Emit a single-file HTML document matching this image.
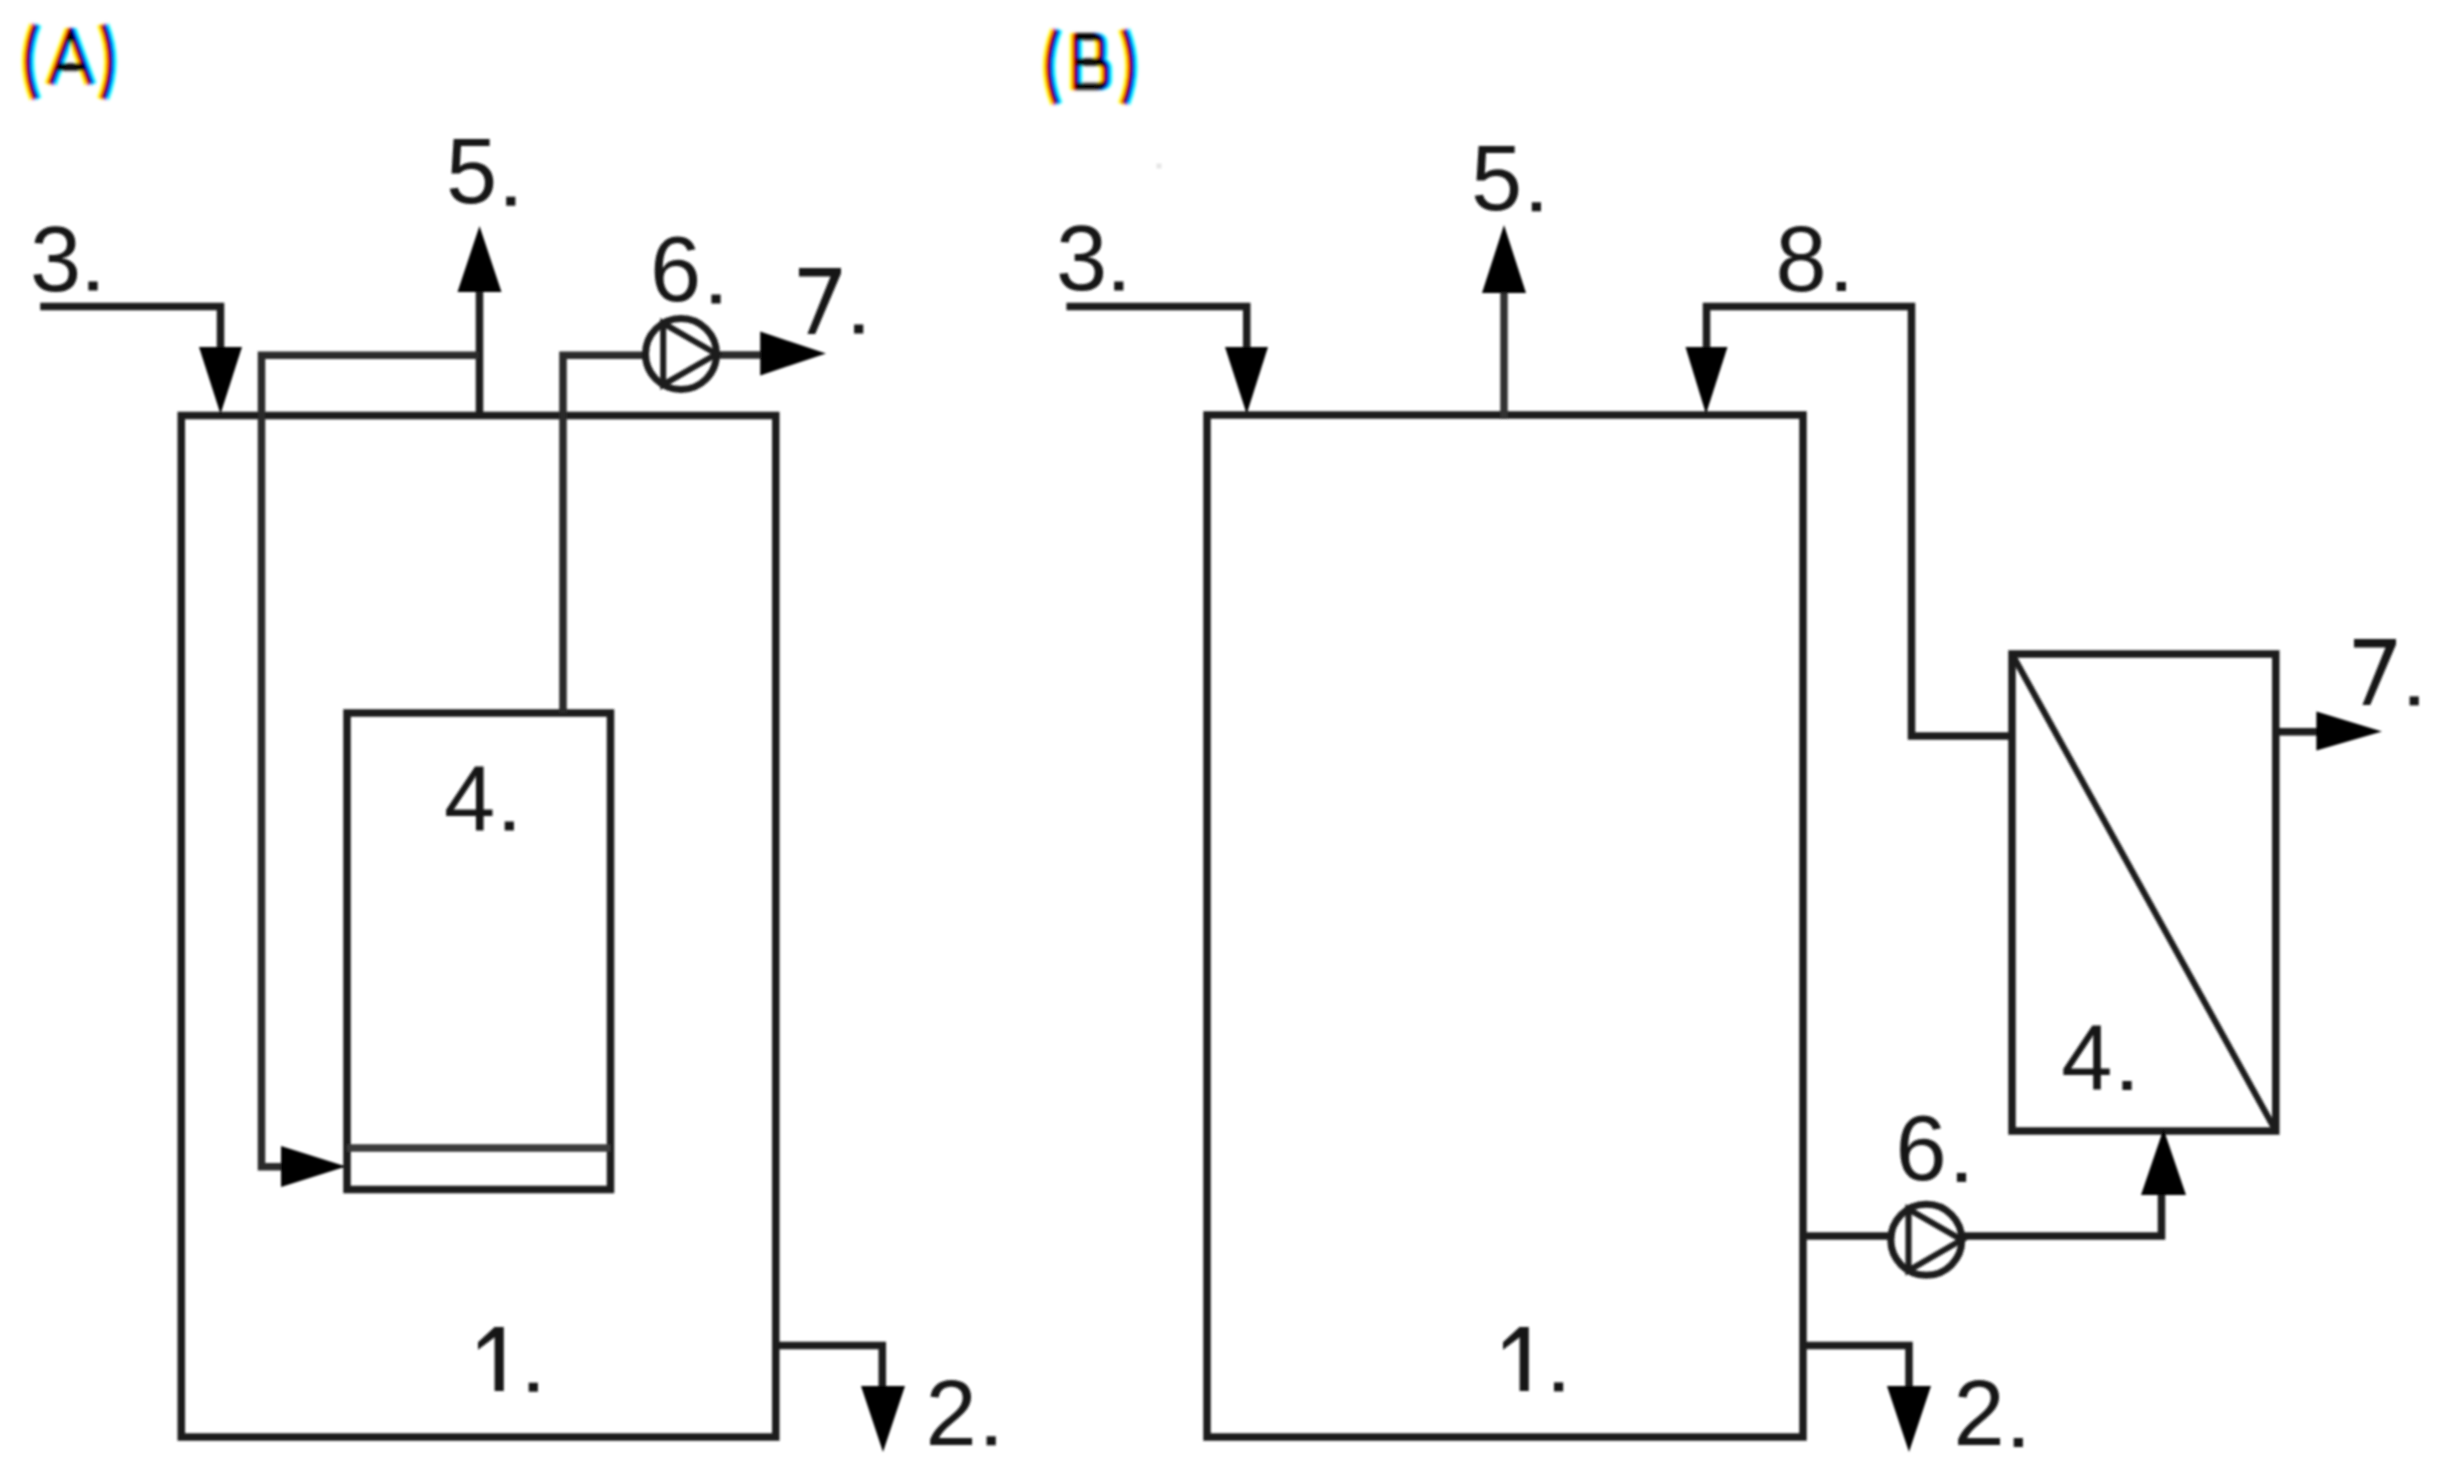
<!DOCTYPE html>
<html>
<head>
<meta charset="utf-8">
<style>
html,body{margin:0;padding:0;background:#fff;}
body{width:2443px;height:1480px;overflow:hidden;}
svg{display:block;}
.lb text{font-family:"Liberation Sans",sans-serif;font-size:92px;fill:#161616;}
.hd text{font-family:"Liberation Sans",sans-serif;font-size:80px;fill:#111;}
</style>
</head>
<body>
<svg width="2443" height="1480" viewBox="0 0 2443 1480">
<defs><filter id="soft" x="0" y="0" width="2443" height="1480" filterUnits="userSpaceOnUse"><feGaussianBlur stdDeviation="1.0"/></filter><filter id="thin" x="-10%" y="-10%" width="120%" height="120%"><feMorphology operator="erode" radius="1.2"/></filter></defs>
<g filter="url(#soft)">
<g>
<rect x="181.3" y="415.5" width="594.5" height="1021.5" stroke="#1c1c1c" stroke-width="7.5" fill="none"/>
<polyline points="40.2,306.6 220.5,306.6 220.5,350" stroke="#1c1c1c" stroke-width="7.5" stroke-linejoin="miter" stroke-linecap="butt" fill="none"/>
<polyline points="479.5,419 479.5,290" stroke="#1c1c1c" stroke-width="7.5" stroke-linejoin="miter" stroke-linecap="butt" fill="none"/>
<polyline points="479.5,355.2 261.5,355.2 261.5,1166.8 284,1166.8" stroke="#2a2a2a" stroke-width="7.5" stroke-linejoin="miter" stroke-linecap="butt" fill="none"/>
<rect x="347" y="713" width="263.5" height="476.5" stroke="#1c1c1c" stroke-width="7.5" fill="none"/>
<polyline points="347,1148 610.5,1148" stroke="#3a3a3a" stroke-width="7.4" stroke-linejoin="miter" stroke-linecap="butt" fill="none"/>
<polyline points="563,713 563,355.2 647,355.2" stroke="#2a2a2a" stroke-width="7.5" stroke-linejoin="miter" stroke-linecap="butt" fill="none"/>
<polyline points="715,355 763,355" stroke="#2a2a2a" stroke-width="7.5" stroke-linejoin="miter" stroke-linecap="butt" fill="none"/>
<circle cx="681" cy="354" r="35.5" stroke="#1c1c1c" stroke-width="7.0" fill="none"/>
<polygon points="716.5,354.0 663.2,323.3 663.2,384.7" stroke="#1c1c1c" stroke-width="6.0" fill="none" stroke-linejoin="miter"/>
<polyline points="775.8,1345.6 882.3,1345.6 882.3,1390" stroke="#1c1c1c" stroke-width="7.5" stroke-linejoin="miter" stroke-linecap="butt" fill="none"/>
<rect x="1207" y="415" width="596.0" height="1022.0" stroke="#1c1c1c" stroke-width="7.5" fill="none"/>
<polyline points="1066.5,306.4 1246.7,306.4 1246.7,350" stroke="#1c1c1c" stroke-width="7.5" stroke-linejoin="miter" stroke-linecap="butt" fill="none"/>
<polyline points="1504,419 1504,290" stroke="#333" stroke-width="7.5" stroke-linejoin="miter" stroke-linecap="butt" fill="none"/>
<polyline points="2012,736 1911.5,736 1911.5,306.5 1706.5,306.5 1706.5,350" stroke="#1c1c1c" stroke-width="7.5" stroke-linejoin="miter" stroke-linecap="butt" fill="none"/>
<rect x="2012" y="654" width="263.8" height="477.0" stroke="#1c1c1c" stroke-width="7.5" fill="none"/>
<polyline points="2012,654 2275.8,1131" stroke="#1c1c1c" stroke-width="6.2" stroke-linejoin="miter" stroke-linecap="butt" fill="none"/>
<polyline points="2275.8,731.8 2318,731.8" stroke="#1c1c1c" stroke-width="7.5" stroke-linejoin="miter" stroke-linecap="butt" fill="none"/>
<polyline points="1803,1236 1891,1236" stroke="#1c1c1c" stroke-width="7.5" stroke-linejoin="miter" stroke-linecap="butt" fill="none"/>
<polyline points="1961,1236 2161.5,1236 2161.5,1192" stroke="#1c1c1c" stroke-width="7.5" stroke-linejoin="miter" stroke-linecap="butt" fill="none"/>
<circle cx="1926.3" cy="1239.8" r="35.5" stroke="#1c1c1c" stroke-width="7.0" fill="none"/>
<polygon points="1961.8,1239.8 1908.5,1209.1 1908.5,1270.5" stroke="#1c1c1c" stroke-width="6.0" fill="none" stroke-linejoin="miter"/>
<polyline points="1803,1345.5 1909,1345.5 1909,1390" stroke="#1c1c1c" stroke-width="7.5" stroke-linejoin="miter" stroke-linecap="butt" fill="none"/>
</g>
<g fill="#000">
<polygon points="199,347 242,347 220.5,414"/>
<polygon points="457.5,292 501.5,292 479.5,226"/>
<polygon points="281,1146 281,1187 346,1166.5"/>
<polygon points="760.2,331.5 760.2,375.5 826,353.5"/>
<polygon points="861,1386 905,1386 883,1452"/>
<polygon points="1225,347 1268,347 1246.7,414"/>
<polygon points="1482,293 1526,293 1504,225"/>
<polygon points="1685.5,347 1727.5,347 1706,414"/>
<polygon points="2316.4,711.5 2316.4,750.5 2382,731.5"/>
<polygon points="2141,1195 2186,1195 2163.5,1129"/>
<polygon points="1887,1386 1931,1386 1909,1452"/>
</g>
<g filter="url(#soft)" style="isolation:isolate"><path d="M50.6,84.2 L70.6,29.2 L90.5,84.2 M56.9,67 H84.2 M35.5,24.5 Q20.5,61.8 35.5,99 M103,24.5 Q117.8,61.8 103,99" transform="translate(2.5,0)" fill="none" stroke="#00ffff" stroke-width="7.4" stroke-linejoin="bevel" style="mix-blend-mode:multiply"/>
<path d="M50.6,84.2 L70.6,29.2 L90.5,84.2 M56.9,67 H84.2 M35.5,24.5 Q20.5,61.8 35.5,99 M103,24.5 Q117.8,61.8 103,99" transform="translate(0,0)" fill="none" stroke="#ff00ff" stroke-width="7.4" stroke-linejoin="bevel" style="mix-blend-mode:multiply"/>
<path d="M50.6,84.2 L70.6,29.2 L90.5,84.2 M56.9,67 H84.2 M35.5,24.5 Q20.5,61.8 35.5,99 M103,24.5 Q117.8,61.8 103,99" transform="translate(-2.5,0)" fill="none" stroke="#ffff00" stroke-width="7.4" stroke-linejoin="bevel" style="mix-blend-mode:multiply"/>
<path d="M1076,34.3 V89 M1073,36.7 H1094 Q1101.5,36.7 1101.5,44 V54.5 Q1101.5,62 1094,62 H1076 M1076,62 H1098 Q1106,62 1106,69.5 V79 Q1106,86.5 1098,86.5 H1073 M1056.5,29.5 Q1041.5,66.8 1056.5,104 M1124,29.5 Q1138.8,66.8 1124,104" transform="translate(2.5,0)" fill="none" stroke="#00ffff" stroke-width="7.4" stroke-linejoin="bevel" style="mix-blend-mode:multiply"/>
<path d="M1076,34.3 V89 M1073,36.7 H1094 Q1101.5,36.7 1101.5,44 V54.5 Q1101.5,62 1094,62 H1076 M1076,62 H1098 Q1106,62 1106,69.5 V79 Q1106,86.5 1098,86.5 H1073 M1056.5,29.5 Q1041.5,66.8 1056.5,104 M1124,29.5 Q1138.8,66.8 1124,104" transform="translate(0,0)" fill="none" stroke="#ff00ff" stroke-width="7.4" stroke-linejoin="bevel" style="mix-blend-mode:multiply"/>
<path d="M1076,34.3 V89 M1073,36.7 H1094 Q1101.5,36.7 1101.5,44 V54.5 Q1101.5,62 1094,62 H1076 M1076,62 H1098 Q1106,62 1106,69.5 V79 Q1106,86.5 1098,86.5 H1073 M1056.5,29.5 Q1041.5,66.8 1056.5,104 M1124,29.5 Q1138.8,66.8 1124,104" transform="translate(-2.5,0)" fill="none" stroke="#ffff00" stroke-width="7.4" stroke-linejoin="bevel" style="mix-blend-mode:multiply"/></g>
<g class="lb">
<text x="30.1" y="290.5">3</text>
<text x="446.0" y="202.7">5</text>
<text x="650.1" y="300.8">6</text>
<text x="443.9" y="830.1">4</text>
<text x="925.5" y="1445.3">2</text>
<text x="1055.9" y="290.2">3</text>
<text x="1471.1" y="209.8">5</text>
<text x="1775.4" y="290.6">8</text>
<text x="2061.2" y="1089.3">4</text>
<text x="1895.6" y="1179.9">6</text>
<text x="1953.6" y="1444.7">2</text>
</g>
<g fill="#161616">
<rect x="88.4" y="281.5" width="9.2" height="9.0"/>
<rect x="506.2" y="196.7" width="9.2" height="9.0"/>
<rect x="711.4" y="294.5" width="9.2" height="9.0"/>
<polygon points="799.0,267.9 841.0,267.9 841.0,273.5 815.2,334.0 807.4,334.0 830.5,276.5 799.0,276.5"/>
<rect x="854.1" y="324.5" width="9.2" height="9.0"/>
<rect x="504.7" y="821.5" width="9.2" height="9.0"/>
<polygon points="494.6,1327.0 503.8,1327.0 503.8,1391.0 494.6,1391.0"/><polygon points="478.0,1342.3 494.6,1327.0 497.0,1327.0 497.0,1335.5 478.0,1349.8"/>
<rect x="528.7" y="1382.7" width="9.2" height="9.0"/>
<rect x="986.6" y="1436.3" width="9.2" height="9.0"/>
<rect x="1114.2" y="281.5" width="9.2" height="9.0"/>
<rect x="1531.8" y="202.3" width="9.2" height="9.0"/>
<rect x="1836.7" y="282.0" width="9.2" height="9.0"/>
<polygon points="2354.0,638.9 2396.0,638.9 2396.0,644.5 2370.2,705.0 2362.4,705.0 2385.5,647.5 2354.0,647.5"/>
<rect x="2409.6" y="696.4" width="9.2" height="9.0"/>
<rect x="2122.4" y="1081.0" width="9.2" height="9.0"/>
<rect x="1956.9" y="1172.9" width="9.2" height="9.0"/>
<polygon points="1519.6,1327.0 1528.8,1327.0 1528.8,1391.0 1519.6,1391.0"/><polygon points="1503.0,1342.3 1519.6,1327.0 1522.0,1327.0 1522.0,1335.5 1503.0,1349.8"/>
<rect x="1156.5" y="163.5" width="5" height="5" fill="#e6e6e6"/>
<rect x="1554.0" y="1382.4" width="9.2" height="9.0"/>
<rect x="2013.7" y="1438.0" width="9.2" height="9.0"/>
</g>
</g>
</svg>
</body>
</html>
